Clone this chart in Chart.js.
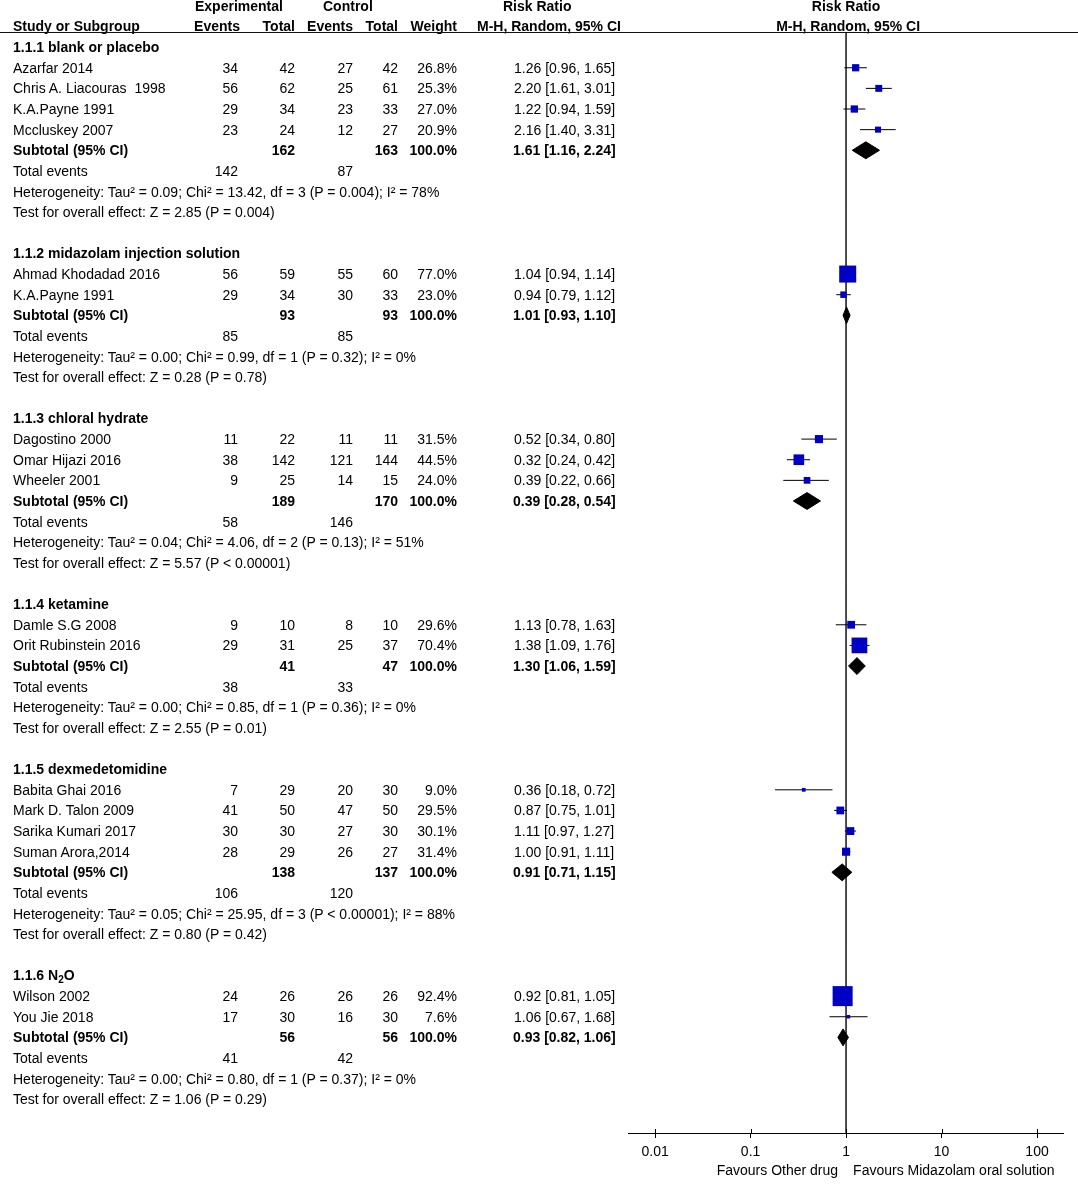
<!DOCTYPE html>
<html>
<head>
<meta charset="utf-8">
<script src="https://cdn.jsdelivr.net/npm/chart.js@4.4.1/dist/chart.umd.min.js"></script>
<style>
    body { margin: 0; background: #fff; }
    #wrap { position: relative; width: 1078px; height: 1190px; font-family: 'Liberation Sans', Arial, sans-serif; font-size: 14px; color: #000; }
    #plot { position: absolute; left: 0; top: 0; }
    .t { position: absolute; height: 20px; line-height: 20px; white-space: pre; }
    .b { font-weight: bold; }
    sub { font-size: 10px; vertical-align: -3px; line-height: 0; }
</style>
</head>
<body>
<div id="wrap"><canvas id="plot" width="1078" height="1190"></canvas></div>
<script>
// Subgrupos
const groupTitles = ['1.1.1 blank or placebo', '1.1.2 midazolam injection solution', '1.1.3 chloral hydrate',
    '1.1.4 ketamine', '1.1.5 dexmedetomidine', '1.1.6 N<sub>2</sub>O'];

// Estudios
const studyGroup = [0, 0, 0, 0, 1, 1, 2, 2, 2, 3, 3, 4, 4, 4, 4, 5, 5];
const studyNames = ['Azarfar 2014', 'Chris A. Liacouras  1998', 'K.A.Payne 1991', 'Mccluskey 2007',
    'Ahmad Khodadad 2016', 'K.A.Payne 1991',
    'Dagostino 2000', 'Omar Hijazi 2016', 'Wheeler 2001',
    'Damle S.G 2008', 'Orit Rubinstein 2016',
    'Babita Ghai 2016', 'Mark D. Talon 2009', 'Sarika Kumari 2017', 'Suman Arora,2014',
    'Wilson 2002', 'You Jie 2018'];
const expEvents = [34, 56, 29, 23, 56, 29, 11, 38, 9, 9, 29, 7, 41, 30, 28, 24, 17];
const expTotal = [42, 62, 34, 24, 59, 34, 22, 142, 25, 10, 31, 29, 50, 30, 29, 26, 30];
const ctrlEvents = [27, 25, 23, 12, 55, 30, 11, 121, 14, 8, 25, 20, 47, 27, 26, 26, 16];
const ctrlTotal = [42, 61, 33, 27, 60, 33, 11, 144, 15, 10, 37, 30, 50, 30, 27, 26, 30];
const studyWeight = [26.8, 25.3, 27.0, 20.9, 77.0, 23.0, 31.5, 44.5, 24.0, 29.6, 70.4, 9.0, 29.5, 30.1, 31.4, 92.4, 7.6];
const studyRR = [1.26, 2.20, 1.22, 2.16, 1.04, 0.94, 0.52, 0.32, 0.39, 1.13, 1.38, 0.36, 0.87, 1.11, 1.00, 0.92, 1.06];
const studyLo = [0.96, 1.61, 0.94, 1.40, 0.94, 0.79, 0.34, 0.24, 0.22, 0.78, 1.09, 0.18, 0.75, 0.97, 0.91, 0.81, 0.67];
const studyHi = [1.65, 3.01, 1.59, 3.31, 1.14, 1.12, 0.80, 0.42, 0.66, 1.63, 1.76, 0.72, 1.01, 1.27, 1.11, 1.05, 1.68];

// Subtotales
const subExpTotal = [162, 93, 189, 41, 138, 56];
const subCtrlTotal = [163, 93, 170, 47, 137, 56];
const subRR = [1.61, 1.01, 0.39, 1.30, 0.91, 0.93];
const subLo = [1.16, 0.93, 0.28, 1.06, 0.71, 0.82];
const subHi = [2.24, 1.10, 0.54, 1.59, 1.15, 1.06];
const totExpEvents = [142, 85, 58, 38, 106, 41];
const totCtrlEvents = [87, 85, 146, 33, 120, 42];
const hetTau = ['0.09', '0.00', '0.04', '0.00', '0.05', '0.00'];
const hetChi = ['13.42', '0.99', '4.06', '0.85', '25.95', '0.80'];
const hetDf = [3, 1, 2, 1, 3, 1];
const hetP = ['= 0.004', '= 0.32', '= 0.13', '= 0.36', '< 0.00001', '= 0.37'];
const hetI2 = [78, 0, 51, 0, 88, 0];
const testZ = ['2.85', '0.28', '5.57', '2.55', '0.80', '1.06'];
const testP = ['= 0.004', '= 0.78', '< 0.00001', '= 0.01', '= 0.42', '= 0.29'];

// Eje x
const tickValues = [0.01, 0.1, 1, 10, 100];

// Filas de la tabla
let row = 1;
const titleRow = [], studyRow = [], subRow = [];
groupTitles.forEach((t, g) => {
    titleRow[g] = row++;
    studyGroup.forEach((sg, i) => {
        if (sg === g) studyRow[i] = row++;
    });
    subRow[g] = row;
    row += 5; // subtotal, total events, heterogeneity, test, blanco
});

const yMin = -1.2845, yMax = 53.635;
const diamondH = 0.41;

const datasets = [];
// línea vertical de no efecto
datasets.push({
    type: 'line', data: [{ x: 1, y: 0.27 }, { x: 1, y: yMax }],
    borderColor: '#333', borderWidth: 1, pointRadius: 0, order: 3
});
// intervalos de confianza
studyNames.forEach((n, i) => {
    datasets.push({
        type: 'line',
        data: [{ x: studyLo[i], y: studyRow[i] }, { x: studyHi[i], y: studyRow[i] }],
        borderColor: '#000', borderWidth: 1, pointRadius: 0, order: 2
    });
});
// cuadros por estudio
datasets.push({
    type: 'scatter',
    data: studyRR.map((v, i) => ({ x: v, y: studyRow[i] })),
    pointStyle: 'rect',
    pointRadius: studyWeight.map(w => (2 + 0.195 * w) / Math.SQRT2),
    pointHoverRadius: studyWeight.map(w => (2 + 0.195 * w) / Math.SQRT2),
    backgroundColor: '#0000c4', borderWidth: 0, order: 0
});
// diamantes de subtotal
subRR.forEach((v, g) => {
    const y = subRow[g];
    datasets.push({
        type: 'line',
        data: [{ x: subLo[g], y: y }, { x: v, y: y - diamondH }, { x: subHi[g], y: y },
            { x: v, y: y + diamondH }, { x: subLo[g], y: y }],
        borderColor: '#000', backgroundColor: '#000', borderWidth: 1,
        fill: 'shape', pointRadius: 0, tension: 0, order: 0
    });
});

// marcas de tick hacia arriba
const tickUp = {
    id: 'tickUp',
    afterDraw(chart) {
        const xs = chart.scales.x;
        const ctx = chart.ctx;
        const b = chart.chartArea.bottom;
        ctx.save();
        ctx.strokeStyle = '#000';
        ctx.lineWidth = 1;
        xs.ticks.forEach(t => {
            const px = Math.round(xs.getPixelForValue(t.value)) + 0.5;
            ctx.beginPath();
            ctx.moveTo(px, b - 4);
            ctx.lineTo(px, b);
            ctx.stroke();
        });
        ctx.restore();
    }
};

const chart = new Chart(document.getElementById('plot'), {
    type: 'scatter',
    data: { datasets: datasets },
    options: {
        responsive: false,
        animation: false,
        events: [],
        layout: { autoPadding: false, padding: { left: 628, right: 15, top: 0, bottom: 0 } },
        scales: {
            x: {
                type: 'logarithmic',
                min: 0.0052,
                max: 187,
                afterBuildTicks: (scale) => {
                    scale.ticks = tickValues.map(v => ({ value: v }));
                },
                afterFit: (scale) => { scale.height = 57; },
                grid: { drawOnChartArea: false, drawTicks: true, tickLength: 5, color: '#000', lineWidth: 1 },
                border: { display: true, color: '#000', width: 1 },
                ticks: {
                    autoSkip: false, maxRotation: 0, padding: 6,
                    color: '#000',
                    font: { family: "'Liberation Sans', Arial, sans-serif", size: 14 },
                    callback: (v) => String(v)
                }
            },
            y: {
                type: 'linear', display: false, reverse: true,
                bounds: 'data',
                min: yMin, max: yMax
            }
        },
        plugins: {
            legend: { display: false },
            tooltip: { enabled: false }
        }
    },
    plugins: [tickUp]
});

// Texto de la tabla (HTML encima del canvas)
const wrap = document.getElementById('wrap');
const ys = chart.scales.y;
const xs = chart.scales.x;
const W = 1078;

function put(html, x, r, align, bold) {
    const d = document.createElement('div');
    d.className = 't' + (bold ? ' b' : '');
    d.innerHTML = html;
    d.style.top = (ys.getPixelForValue(r) - 10) + 'px';
    if (align === 'right') {
        d.style.right = (W - x) + 'px';
    } else if (align === 'center') {
        d.style.left = (x - 200) + 'px';
        d.style.width = '400px';
        d.style.textAlign = 'center';
    } else {
        d.style.left = x + 'px';
    }
    wrap.appendChild(d);
}

const colName = 13, colEE = 238, colET = 295, colCE = 353, colCT = 398, colW = 457, colCI = 514;
const ci = (v, l, h) => v.toFixed(2) + ' [' + l.toFixed(2) + ', ' + h.toFixed(2) + ']';

// Encabezados
put('Experimental', 195, -1, 'left', true);
put('Control', 323, -1, 'left', true);
put('Risk Ratio', 503, -1, 'left', true);
put('Study or Subgroup', colName, 0, 'left', true);
put('Events', colEE + 2, 0, 'right', true);
put('Total', colET, 0, 'right', true);
put('Events', colCE, 0, 'right', true);
put('Total', colCT, 0, 'right', true);
put('Weight', colW, 0, 'right', true);
put('M-H, Random, 95% CI', 477, 0, 'left', true);
const x1 = xs.getPixelForValue(1);
put('Risk Ratio', x1, -1, 'center', true);
put('M-H, Random, 95% CI', x1 + 2, 0, 'center', true);

const line = document.createElement('div');
line.style.cssText = 'position:absolute;left:0;width:' + W + 'px;height:1px;background:#111;top:' +
    Math.round(ys.getPixelForValue(0.27)) + 'px';
wrap.appendChild(line);

// Filas
groupTitles.forEach((t, g) => put(t, colName, titleRow[g], 'left', true));
studyNames.forEach((n, i) => {
    const r = studyRow[i];
    put(n, colName, r, 'left', false);
    put(String(expEvents[i]), colEE, r, 'right', false);
    put(String(expTotal[i]), colET, r, 'right', false);
    put(String(ctrlEvents[i]), colCE, r, 'right', false);
    put(String(ctrlTotal[i]), colCT, r, 'right', false);
    put(studyWeight[i].toFixed(1) + '%', colW, r, 'right', false);
    put(ci(studyRR[i], studyLo[i], studyHi[i]), colCI, r, 'left', false);
});
subRR.forEach((v, g) => {
    const r = subRow[g];
    put('Subtotal (95% CI)', colName, r, 'left', true);
    put(String(subExpTotal[g]), colET, r, 'right', true);
    put(String(subCtrlTotal[g]), colCT, r, 'right', true);
    put('100.0%', colW, r, 'right', true);
    put(ci(v, subLo[g], subHi[g]), colCI - 1, r, 'left', true);
    put('Total events', colName, r + 1, 'left', false);
    put(String(totExpEvents[g]), colEE, r + 1, 'right', false);
    put(String(totCtrlEvents[g]), colCE, r + 1, 'right', false);
    put('Heterogeneity: Tau² = ' + hetTau[g] + '; Chi² = ' + hetChi[g] + ', df = ' + hetDf[g] +
        ' (P ' + hetP[g] + '); I² = ' + hetI2[g] + '%', colName, r + 2, 'left', false);
    put('Test for overall effect: Z = ' + testZ[g] + ' (P ' + testP[g] + ')', colName, r + 3, 'left', false);
});

// Etiquetas "Favours"
const fy = (chart.chartArea.bottom + 27) + 'px';
const fl = document.createElement('div');
fl.className = 't';
fl.textContent = 'Favours Other drug';
fl.style.right = (W - (x1 - 8)) + 'px';
fl.style.top = fy;
wrap.appendChild(fl);
const fr = document.createElement('div');
fr.className = 't';
fr.textContent = 'Favours Midazolam oral solution';
fr.style.left = (x1 + 7) + 'px';
fr.style.top = fy;
wrap.appendChild(fr);
</script>
</body>
</html>
